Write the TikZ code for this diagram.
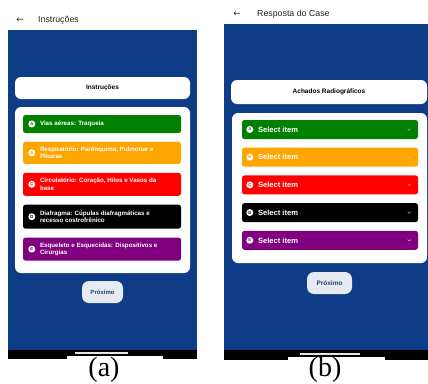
\documentclass[tikz,border=0pt]{standalone}
\usepackage{fontspec}
\usepackage{xcolor}
\setmainfont{Liberation Serif}
\newfontfamily\uifont{Liberation Sans}
\newfontfamily\symbolfont{DejaVu Sans}
\usetikzlibrary{positioning}

\definecolor{appblue}{RGB}{14,60,134}
\definecolor{itemgreen}{RGB}{0,128,0}
\definecolor{itemorange}{RGB}{255,165,0}
\definecolor{itemred}{RGB}{255,0,0}
\definecolor{itempurple}{RGB}{128,0,128}
\definecolor{btnfill}{RGB}{230,234,241}
\definecolor{btntext}{RGB}{38,62,112}
\definecolor{headtext}{RGB}{34,34,34}

\begin{document}
\begin{tikzpicture}[x=1pt, y=-1pt, node distance=8.5pt]
    % Define styles
    \tikzstyle{screen} = [fill=appblue]
    \tikzstyle{card} = [rectangle, fill=white, rounded corners=6pt, inner sep=0pt, text=black, font=\uifont\bfseries\fontsize{6.5}{7}\selectfont]
    \tikzstyle{item} = [rectangle, rounded corners=2.5pt, inner sep=0pt]
    \tikzstyle{badge} = [circle, fill=white, inner sep=0pt, minimum size=7pt, font=\uifont\bfseries\fontsize{4.2}{4.2}\selectfont]
    \tikzstyle{itemtext} = [anchor=west, text=white, align=left, inner sep=0pt, font=\uifont\bfseries\fontsize{6.2}{7.3}\selectfont]
    \tikzstyle{selecttext} = [anchor=west, text=white, inner sep=0pt, font=\uifont\bfseries\fontsize{7.6}{8}\selectfont]
    \tikzstyle{chevron} = [draw=white!55!gray, line width=0.4pt]
    \tikzstyle{button} = [rectangle, rounded corners=7pt, fill=btnfill, text=btntext, inner sep=0pt, font=\uifont\bfseries\fontsize{6}{6}\selectfont]
    \tikzstyle{header} = [anchor=west, inner sep=0pt, text=headtext, font=\uifont\fontsize{8.8}{9}\selectfont]
    \tikzstyle{caption} = [anchor=base, inner sep=0pt, font=\fontsize{28}{28}\selectfont]

    \useasboundingbox (0,0) rectangle (428,383);

    % Screen (a): instructions
    \fill[screen] (8,30) rectangle (197,350);
    \node (back_a) [header, anchor=center] at (20,20) {\symbolfont ←};
    \node (header_a) [header] at (38,20) {Instruções};
    \node (title_a) [card, minimum width=175pt, minimum height=22pt] at (102.5,88) {Instruções};
    \node (card_a) [card, minimum width=175pt, minimum height=166pt] at (102.5,190) {};

    \node (item_a1) [item, fill=itemgreen, minimum width=158pt, minimum height=18pt] at (102,124) {};
    \node (item_a2) [item, fill=itemorange, minimum width=158pt, minimum height=22pt, below=of item_a1] {};
    \node (item_a3) [item, fill=itemred, minimum width=158pt, minimum height=23pt, below=of item_a2] {};
    \node (item_a4) [item, fill=black, minimum width=158pt, minimum height=24pt, below=of item_a3] {};
    \node (item_a5) [item, fill=itempurple, minimum width=158pt, minimum height=23pt, below=of item_a4] {};

    \node (badge_a1) [badge, text=itemgreen!70!black] at ([xshift=9pt]item_a1.west) {A};
    \node (badge_a2) [badge, text=itemorange] at ([xshift=9pt]item_a2.west) {B};
    \node (badge_a3) [badge, text=itemred] at ([xshift=9pt]item_a3.west) {C};
    \node (badge_a4) [badge, text=black] at ([xshift=9pt]item_a4.west) {D};
    \node (badge_a5) [badge, text=itempurple] at ([xshift=9pt]item_a5.west) {E};

    \node (text_a1) [itemtext] at ([xshift=17pt]item_a1.west) {Vias aéreas: Traqueia};
    \node (text_a2) [itemtext] at ([xshift=17pt]item_a2.west) {Respiratório: Parênquima, Pulmonar e\\Pleuras};
    \node (text_a3) [itemtext] at ([xshift=17pt]item_a3.west) {Circulatório: Coração, Hilos e Vasos da\\base};
    \node (text_a4) [itemtext] at ([xshift=17pt]item_a4.west) {Diafragma: Cúpulas diafragmáticas e\\recesso costrofrênico};
    \node (text_a5) [itemtext] at ([xshift=17pt]item_a5.west) {Esqueleto e Esquecidas: Dispositivos e\\Cirurgias};

    \node (next_a) [button, minimum width=41pt, minimum height=22pt] at (102.5,292) {Próximo};

    \fill[black] (8,350) rectangle (197,356);
    \fill[black] (8,356) rectangle (67,359);
    \fill[black] (163,356) rectangle (197,359);
    \draw[white!80!gray, line width=1.2pt] (75,353) -- (128,353);
    \node (cap_a) [caption] at (104,376.5) {(a)};

    % Screen (b): case answer
    \fill[screen] (224,24) rectangle (428,350);
    \node (back_b) [header, anchor=center] at (237,14) {\symbolfont ←};
    \node (header_b) [header] at (257,14) {Resposta do Case};
    \node (title_b) [card, minimum width=196pt, minimum height=24pt] at (329,92) {Achados Radiográficos};
    \node (card_b) [card, minimum width=195pt, minimum height=150pt] at (329.5,188) {};

    \node (item_b1) [item, fill=itemgreen, minimum width=176pt, minimum height=19pt] at (330,129.5) {};
    \node (item_b2) [item, fill=itemorange, minimum width=176pt, minimum height=19pt, below=8.3pt of item_b1] {};
    \node (item_b3) [item, fill=itemred, minimum width=176pt, minimum height=19pt, below=8.3pt of item_b2] {};
    \node (item_b4) [item, fill=black, minimum width=176pt, minimum height=19pt, below=8.3pt of item_b3] {};
    \node (item_b5) [item, fill=itempurple, minimum width=176pt, minimum height=19pt, below=8.3pt of item_b4] {};

    \node (badge_b1) [badge, text=itemgreen] at ([xshift=8pt]item_b1.west) {A};
    \node (badge_b2) [badge, text=itemorange] at ([xshift=8pt]item_b2.west) {B};
    \node (badge_b3) [badge, text=itemred] at ([xshift=8pt]item_b3.west) {C};
    \node (badge_b4) [badge, text=black] at ([xshift=8pt]item_b4.west) {D};
    \node (badge_b5) [badge, text=itempurple] at ([xshift=8pt]item_b5.west) {E};

    \node (text_b1) [selecttext] at ([xshift=16pt]item_b1.west) {Select item};
    \node (text_b2) [selecttext] at ([xshift=16pt]item_b2.west) {Select item};
    \node (text_b3) [selecttext] at ([xshift=16pt]item_b3.west) {Select item};
    \node (text_b4) [selecttext] at ([xshift=16pt]item_b4.west) {Select item};
    \node (text_b5) [selecttext] at ([xshift=16pt]item_b5.west) {Select item};

    \draw[chevron] ([xshift=-9pt]item_b1.east) +(-1.5,-0.8) -- +(0,0.8) -- +(1.5,-0.8);
    \draw[chevron] ([xshift=-9pt]item_b2.east) +(-1.5,-0.8) -- +(0,0.8) -- +(1.5,-0.8);
    \draw[chevron] ([xshift=-9pt]item_b3.east) +(-1.5,-0.8) -- +(0,0.8) -- +(1.5,-0.8);
    \draw[chevron] ([xshift=-9pt]item_b4.east) +(-1.5,-0.8) -- +(0,0.8) -- +(1.5,-0.8);
    \draw[chevron] ([xshift=-9pt]item_b5.east) +(-1.5,-0.8) -- +(0,0.8) -- +(1.5,-0.8);

    \node (next_b) [button, minimum width=45pt, minimum height=22pt, font=\uifont\bfseries\fontsize{6.5}{6.5}\selectfont] at (329.5,283) {Próximo};

    \fill[black] (224,350) rectangle (428,357);
    \fill[black] (224,357) rectangle (288,360);
    \fill[black] (385,357) rectangle (428,360);
    \draw[white!80!gray, line width=1.2pt] (300,354) -- (360,354);
    \node (cap_b) [caption] at (325,376.5) {(b)};
\end{tikzpicture}
\end{document}
